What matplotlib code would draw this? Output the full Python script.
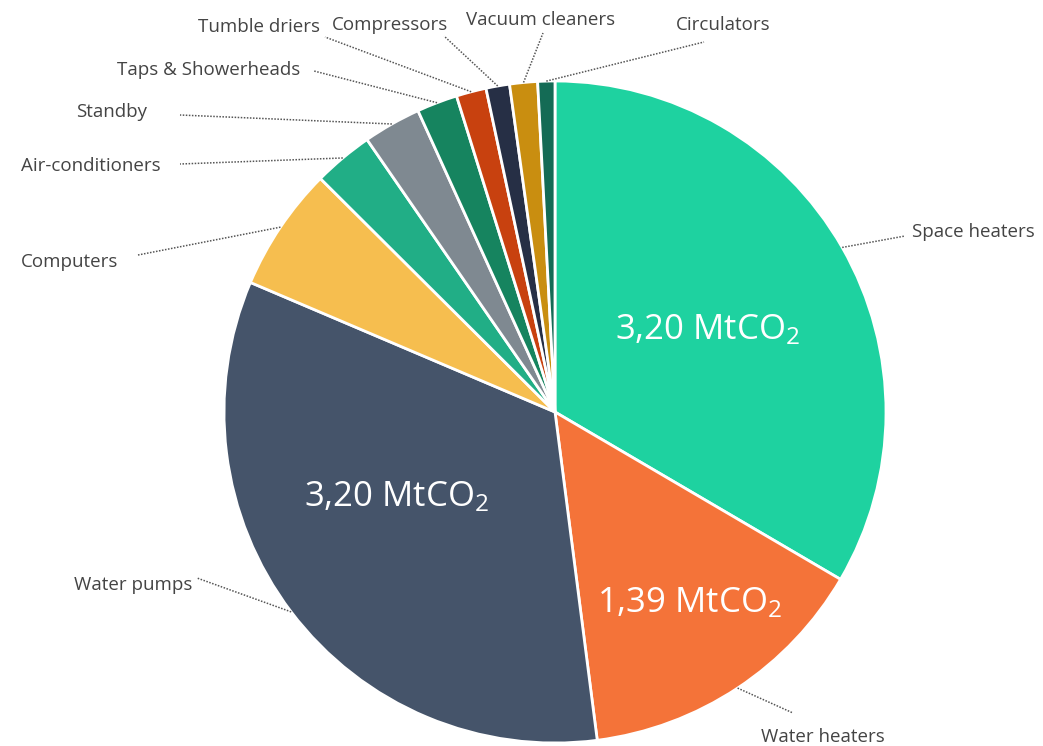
import numpy as np
import matplotlib
matplotlib.use("Agg")
import matplotlib.pyplot as plt

plt.rcParams['font.family'] = ['Open Sans', 'DejaVu Sans']
plt.rcParams['mathtext.fontset'] = 'custom'
plt.rcParams['mathtext.rm'] = 'Open Sans'
plt.rcParams['mathtext.it'] = 'Open Sans:italic'

categories = ["Space heaters", "Water heaters", "Water pumps", "Computers",
              "Air-conditioners", "Standby", "Taps & Showerheads", "Tumble driers",
              "Compressors", "Vacuum cleaners", "Circulators"]
values = [3.20, 1.39, 3.20, 0.58, 0.28, 0.27, 0.19, 0.14, 0.11, 0.13, 0.08]
value_labels = ["3,20", "1,39", "3,20"]
colors = ["#1ED2A0", "#F47339", "#45546A", "#F6BE4F", "#21AE86", "#7F8991",
          "#16845F", "#C8410F", "#262F45", "#C98E10", "#146B55"]

W, H = 1043, 746
fig = plt.figure(figsize=(W / 100, H / 100), dpi=100)
ax = fig.add_axes([0, 0, 1, 1])

cx, cy, R = 555, H - 412, 331
wedges, _ = ax.pie(values, colors=colors, startangle=90, counterclock=False,
                   center=(cx, cy), radius=R,
                   wedgeprops=dict(edgecolor="white", linewidth=2))
ax.set_xlim(0, W)
ax.set_ylim(0, H)
ax.set_aspect('equal')
ax.axis('off')

# label layout: (text x, text y, ha, line end x, line end y) in pixel coords (y down)
layout = {
    "Space heaters": (912, 232, "left", 905, 236),
    "Water heaters": (823, 737, "center", 793, 713),
    "Water pumps": (192, 585, "right", 197, 578),
    "Computers": (118, 262, "right", 138, 255),
    "Air-conditioners": (161, 166, "right", 180, 164),
    "Standby": (147, 112, "right", 180, 115),
    "Taps & Showerheads": (300, 70, "right", 314, 71),
    "Tumble driers": (320, 27, "right", 325, 37),
    "Compressors": (390, 25, "center", 444, 36),
    "Vacuum cleaners": (541, 20, "center", 543, 33),
    "Circulators": (723, 25, "center", 704, 42),
}

for w, name in zip(wedges, categories):
    mid = np.deg2rad((w.theta1 + w.theta2) / 2)
    sx, sy = cx + R * np.cos(mid), cy + R * np.sin(mid)
    tx, ty, ha, ex, ey = layout[name]
    ax.plot([sx, ex], [sy, H - ey], color="#555555", lw=1.1,
            linestyle=(0, (1, 1)), solid_capstyle='butt')
    ax.text(tx, H - ty, name, ha=ha, va="center", fontsize=13.5, color="#444444")

# value labels inside the big wedges (pixel positions, y down)
value_pos = [(708, 330), (690, 603), (397, 497)]
for lab, (px, py) in zip(value_labels, value_pos):
    ax.text(px, H - py, lab + r" MtCO$_{\mathregular{2}}$", ha="center", va="center",
            fontsize=25, color="white", fontweight="medium")

fig.savefig("out.png", dpi=100)
